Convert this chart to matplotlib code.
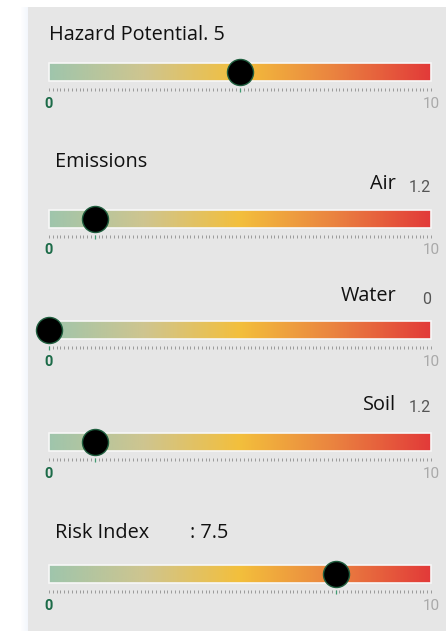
import numpy as np
import matplotlib
matplotlib.use("Agg")
import matplotlib.pyplot as plt
from matplotlib.colors import LinearSegmentedColormap
from matplotlib.patches import Rectangle

# ---- data ----
slider_names = ["Hazard Potential", "Air", "Water", "Soil", "Risk Index"]
slider_values = [5.0, 1.2, 0.0, 1.2, 7.5]
axis_min = 0
axis_max = 10
tick_step = 0.1
min_label = "0"
max_label = "10"

W, H = 446, 631
DPI = 100
fig = plt.figure(figsize=(W / DPI, H / DPI), dpi=DPI)
fig.patch.set_facecolor("white")

def fx(px):
    return px / W

def fy(py):
    return 1 - py / H

# background panel drawn in its own axes behind everything
bg = fig.add_axes([0, 0, 1, 1], zorder=-10)
bg.set_xlim(0, W)
bg.set_ylim(H, 0)
bg.axis("off")
bg.add_patch(Rectangle((28, 7), W - 28, H - 7, facecolor="#e6e6e6", edgecolor="none"))
for i, a in enumerate(np.linspace(0.0, 0.35, 8)):
    bg.add_patch(Rectangle((20 + i, 7), 1, H - 7, facecolor="#dfe8f8", alpha=a,
                           edgecolor="none"))

cmap = LinearSegmentedColormap.from_list(
    "risk", [(0.0, "#9fc5ac"), (0.25, "#cfc58f"), (0.5, "#f3bf3c"),
             (0.75, "#ea8240"), (1.0, "#e23a39")])

bar_left, bar_right = 49, 431
bar_tops = [63, 210, 321, 433, 565]
bar_h = 18

title_font = ["Open Sans", "DejaVu Sans"]
num_font = ["Roboto", "DejaVu Sans"]

grad = np.linspace(0, 1, 512).reshape(1, -1)
for name, val, top in zip(slider_names, slider_values, bar_tops):
    ax = fig.add_axes([fx(bar_left), fy(top + bar_h), fx(bar_right - bar_left), bar_h / H],
                      zorder=1)
    ax.set_xlim(axis_min, axis_max)
    ax.set_ylim(0, 1)
    ax.axis("off")
    ax.imshow(grad, cmap=cmap, extent=[axis_min, axis_max, 0, 1], aspect="auto", zorder=1)
    ax.add_patch(Rectangle((axis_min, 0), axis_max - axis_min, 1, fill=False,
                           edgecolor="#f7f7f7", linewidth=1.2, zorder=2, clip_on=False))
    ticks = np.round(np.arange(axis_min, axis_max + 1e-9, tick_step), 2)
    ax.vlines(ticks, -0.40, -0.58, colors="#9a9a9a", linewidth=0.7, clip_on=False, zorder=1)
    near = ticks[np.argmin(np.abs(ticks - val))]
    ax.vlines([near], -0.40, -0.62, colors="#3f9a70", linewidth=0.9, clip_on=False, zorder=2)
    ax.scatter([val], [0.5], s=26 ** 2 * 0.52, facecolor="black", edgecolor="#1f5e3e",
               linewidth=1.0, zorder=5, clip_on=False)
    ax.text(axis_min, -1.25, min_label, ha="center", va="center", fontsize=10.5,
            fontweight="bold", color="#1c6b48", family=num_font)
    ax.text(axis_max, -1.25, max_label, ha="center", va="center", fontsize=11,
            color="#a9a9a9", family=num_font)

# titles and labels
fig.text(fx(49), fy(35), f"{slider_names[0]}. {slider_values[0]:g}", ha="left", va="center",
         fontsize=14.3, color="#111111", family=title_font)
fig.text(fx(55), fy(162), "Emissions", ha="left", va="center",
         fontsize=14.3, color="#111111", family=title_font)
for name, val, y in [(slider_names[1], slider_values[1], 184),
                     (slider_names[2], slider_values[2], 296),
                     (slider_names[3], slider_values[3], 405)]:
    fig.text(fx(396), fy(y), name, ha="right", va="center", fontsize=14.3,
             color="#111111", family=title_font)
    fig.text(fx(431), fy(y + 3), f"{val:g}", ha="right", va="center", fontsize=11.5,
             color="#555555", family=num_font)
fig.text(fx(55), fy(533), slider_names[4], ha="left", va="center",
         fontsize=14.3, color="#111111", family=title_font)
fig.text(fx(190), fy(533), f": {slider_values[4]:g}", ha="left", va="center",
         fontsize=14.3, color="#111111", family=title_font)

fig.savefig("out.png", dpi=DPI)
